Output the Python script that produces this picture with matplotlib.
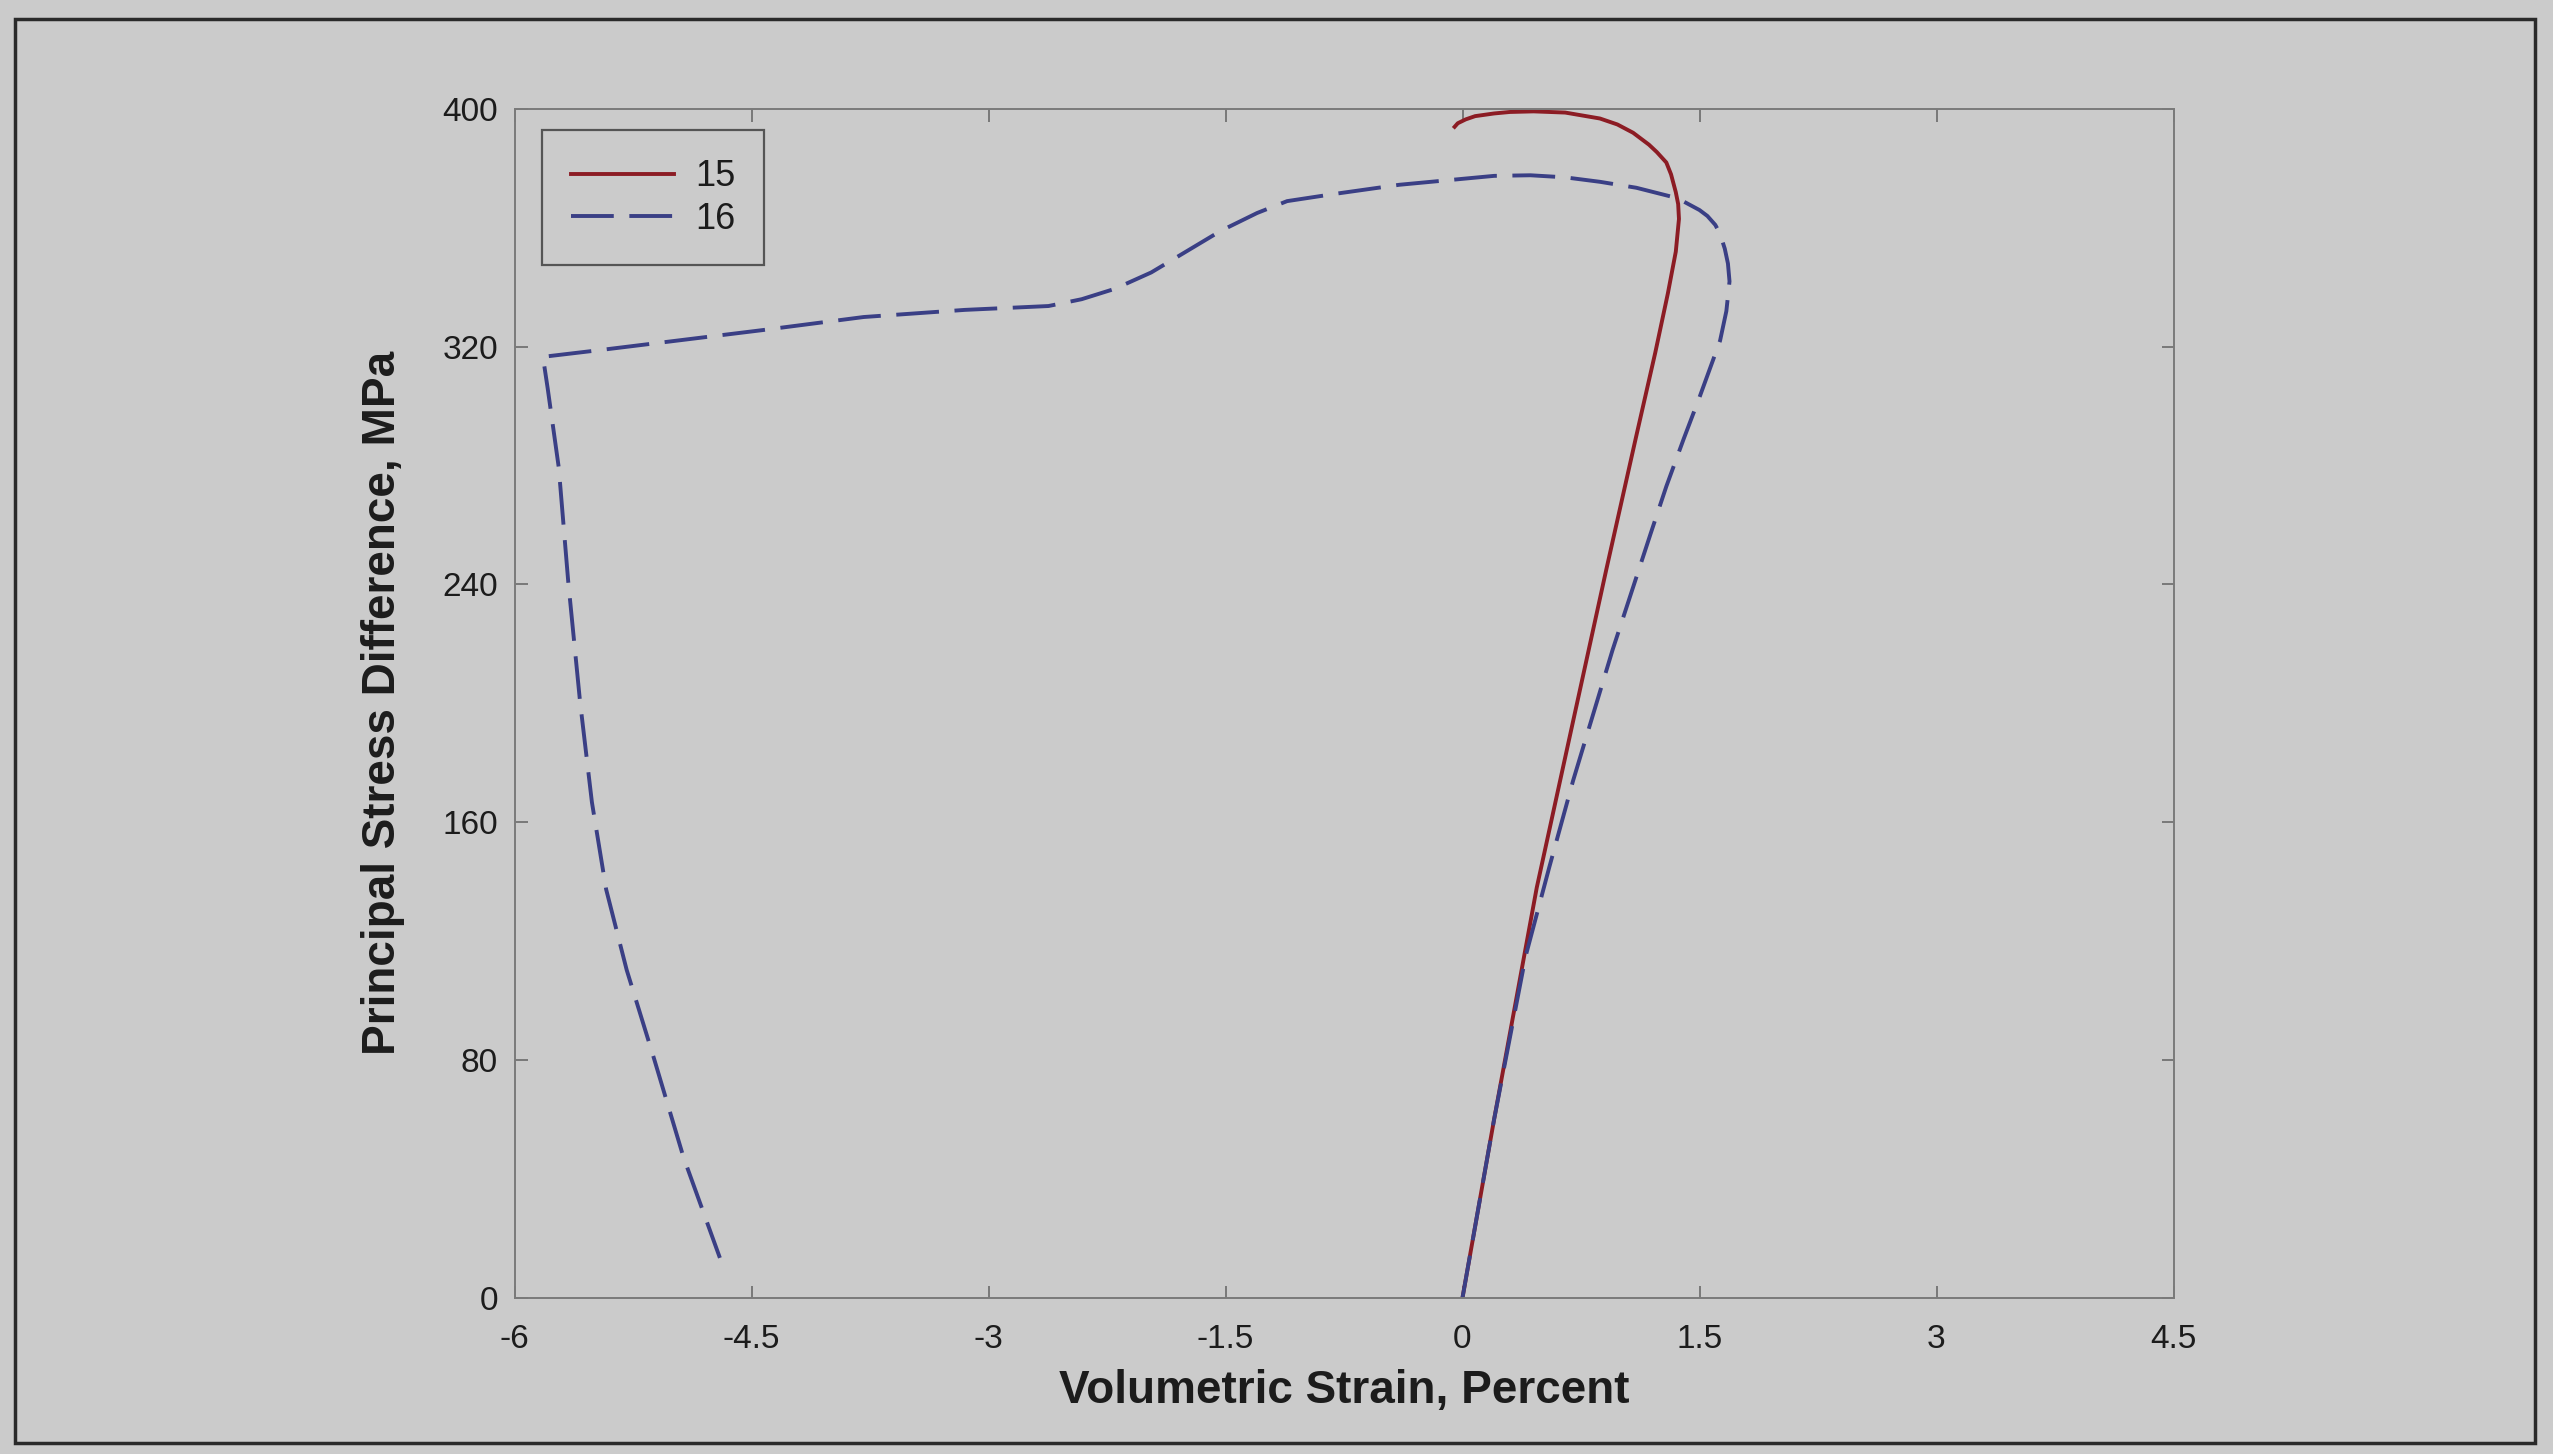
import matplotlib.pyplot as plt
from matplotlib.patches import Rectangle

plt.rcParams['font.family'] = ['Liberation Sans', 'DejaVu Sans']
plt.rcParams['axes.unicode_minus'] = False

# test 15: volumetric strain (%) vs principal stress difference (MPa)
strain_15 = [0.00, 0.20, 0.47, 0.70, 0.91, 1.10, 1.22, 1.30, 1.35,
             1.37, 1.365, 1.35, 1.32, 1.29, 1.23, 1.18, 1.08, 0.98,
             0.87, 0.65, 0.45, 0.30, 0.20, 0.08, 0.02, -0.03, -0.05]
stress_15 = [0, 60, 138, 194, 245, 290, 318, 338, 352,
             363, 368, 372, 378, 382, 385.5, 388, 392, 394.8,
             396.8, 398.8, 399.2, 399.0, 398.5, 397.6, 396.5, 395.2, 394]

# test 16
strain_16 = [0.00, 0.20, 0.40, 0.55, 0.70, 0.95, 1.19, 1.29, 1.40, 1.50,
             1.63, 1.67, 1.69, 1.68, 1.66, 1.63, 1.60, 1.55, 1.50, 1.43,
             1.36, 1.10, 0.87, 0.65, 0.43, 0.20, 0.00, -0.40, -0.80, -1.11,
             -1.30, -1.53, -1.75, -1.97, -2.20, -2.41, -2.62, -3.15, -3.79,
             -4.43, -5.44, -5.82, -5.79, -5.72, -5.66, -5.585, -5.51, -5.42,
             -5.29, -5.12, -4.93, -4.70]
stress_16 = [0, 60, 115, 145, 174, 218, 257, 273, 289, 303,
             322, 332, 342, 348, 353, 358, 361, 364, 366, 368,
             370, 373.5, 375.5, 377, 377.7, 377.5, 376.5, 374.5, 371.5, 369,
             365, 359, 352, 345, 339.5, 336, 333.7, 332.4, 330,
             325.6, 319, 316.6, 306, 279.4, 241, 200.5, 166.7, 137.4,
             110.3, 81, 47.2, 13.4]

x_ticks = [-6, -4.5, -3, -1.5, 0, 1.5, 3, 4.5]
x_labels = ["-6", "-4.5", "-3", "-1.5", "0", "1.5", "3", "4.5"]
y_ticks = [0, 80, 160, 240, 320, 400]
y_labels = ["0", "80", "160", "240", "320", "400"]

bg = "#cbcbcb"
ink = "#1c1c1c"
W, H = 2553, 1454

fig = plt.figure(figsize=(W / 100, H / 100), dpi=100, facecolor=bg)
ax = fig.add_axes([514.5 / W, 1 - 1297.7 / H, 1659 / W, 1188.7 / H])
ax.set_facecolor(bg)

ax.plot(strain_15, stress_15, color="#8c1c24", lw=2.8, label="15")
ax.plot(strain_16, stress_16, color="#3a3f85", lw=2.8, dashes=(11, 4),
        label="16")

ax.set_xlim(-6, 4.5)
ax.set_ylim(0, 400)
ax.set_xticks(x_ticks)
ax.set_xticklabels(x_labels)
ax.set_yticks(y_ticks)
ax.set_yticklabels(y_labels)
ax.tick_params(direction="in", length=9, width=1.2, color="#6a6a6a",
               labelsize=24, labelcolor=ink, top=True, right=True)
ax.tick_params(axis="x", pad=19)
ax.tick_params(axis="y", pad=12)
for s in ax.spines.values():
    s.set_color("#7a7a7a")
    s.set_linewidth(1.4)

ax.set_xlabel("Volumetric Strain, Percent", fontsize=33, fontweight="bold",
              color=ink, labelpad=10)
ax.set_ylabel("Principal Stress Difference, MPa", fontsize=33,
              fontweight="bold", color=ink, labelpad=27)

leg = ax.legend(loc="upper left", bbox_to_anchor=(0.0164, 0.982),
                borderaxespad=0, fontsize=26, handlelength=2.85,
                handletextpad=0.6, borderpad=0.8, labelspacing=0.2,
                fancybox=False, framealpha=1, facecolor=bg,
                edgecolor="#555555")
leg.get_frame().set_linewidth(1.6)
for t in leg.get_texts():
    t.set_color(ink)

# outer border around the whole figure
fig.patches.append(Rectangle((15 / W, 1 - 1443 / H), (2535 - 15) / W,
                             (1443 - 19) / H, transform=fig.transFigure,
                             fill=False, edgecolor="#2a2a2a", lw=2.5))

fig.savefig("out.png", dpi=100, facecolor=bg)
